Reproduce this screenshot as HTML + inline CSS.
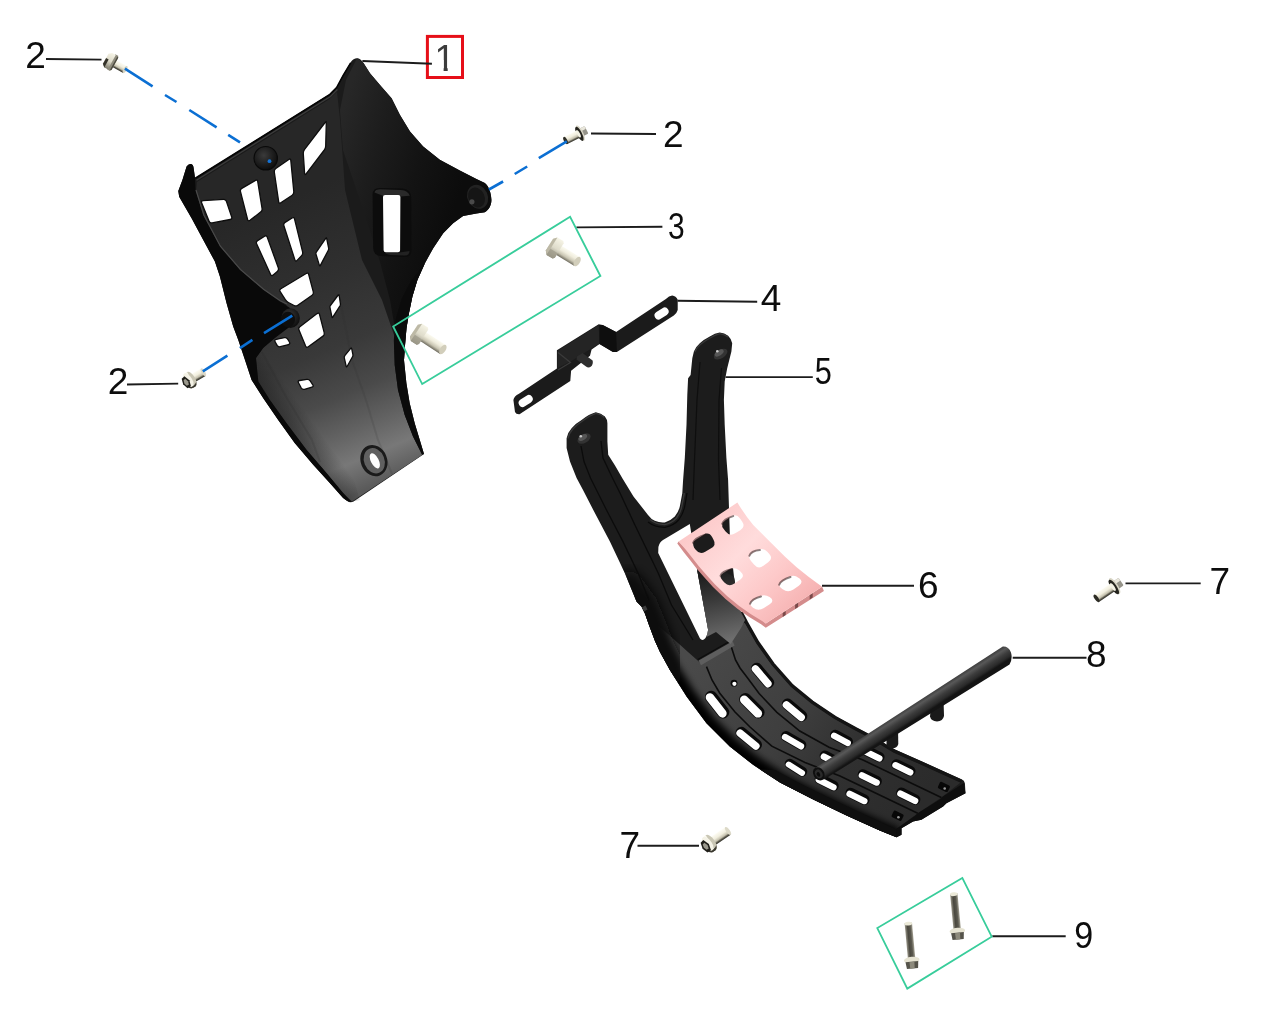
<!DOCTYPE html>
<html>
<head>
<meta charset="utf-8">
<title>Parts diagram</title>
<style>
html,body{margin:0;padding:0;background:#fff;}
body{width:1266px;height:1022px;overflow:hidden;position:relative;}
svg{position:absolute;left:0;top:0;display:block;}
.lbl{font-family:"Liberation Sans",sans-serif;font-size:37px;fill:#0d0d0d;text-anchor:middle;}
.lead{stroke:#1c1c1c;stroke-width:1.9;fill:none;}
.gbox{stroke:#38cd9b;stroke-width:1.8;fill:none;}
.dash{stroke:#1473d6;stroke-width:2.6;fill:none;stroke-linecap:butt;}
</style>
</head>
<body>
<svg width="1266" height="1022" viewBox="0 0 1266 1022">
<defs>
</defs>
<!--PARTS-->
<!--P1S-->
<g id="part1">
<defs>
<linearGradient id="p1floor" gradientUnits="userSpaceOnUse" x1="285" y1="200" x2="400" y2="475">
<stop offset="0" stop-color="#272727"/><stop offset="0.3" stop-color="#303030"/><stop offset="0.52" stop-color="#393939"/><stop offset="0.68" stop-color="#4a4a4a"/><stop offset="0.8" stop-color="#626262"/><stop offset="0.9" stop-color="#787878"/><stop offset="1" stop-color="#5a5a5a"/>
</linearGradient>
<linearGradient id="p1left" gradientUnits="userSpaceOnUse" x1="268" y1="418" x2="296" y2="398">
<stop offset="0" stop-color="#161616" stop-opacity="0.6"/><stop offset="1" stop-color="#161616" stop-opacity="0"/>
</linearGradient>
<linearGradient id="p1rsoft" gradientUnits="userSpaceOnUse" x1="340" y1="0" x2="385" y2="0">
<stop offset="0" stop-color="#1a1a1a" stop-opacity="0"/><stop offset="1" stop-color="#1a1a1a" stop-opacity="1"/>
</linearGradient>
<linearGradient id="p1wing" gradientUnits="userSpaceOnUse" x1="340" y1="120" x2="470" y2="160">
<stop offset="0" stop-color="#272727"/><stop offset="0.3" stop-color="#1d1d1d"/><stop offset="0.65" stop-color="#131313"/><stop offset="1" stop-color="#0c0c0c"/>
</linearGradient>
<radialGradient id="boss" cx="0.42" cy="0.38" r="0.7">
<stop offset="0" stop-color="#3a3a3a"/><stop offset="0.55" stop-color="#1e1e1e"/><stop offset="1" stop-color="#090909"/>
</radialGradient>
</defs>
<path fill="#1b1b1b" d="M357,58.3 C359.5,58.3 361.5,60 363.5,63 L370,73.3 L380,85 L391.6,98.3 L400,115 L410,131.5 L423.2,146.5 L439.8,159.8 L459.8,170.6 L476.4,179 L484.8,183.1 C488.5,186 491,192 491.4,199.8 C491.5,205 489,210 484.8,212.2 L476.4,213.5 L463.1,216 L453.1,223.3 L443.2,233.3 L433.2,248.2 L424.9,263.2 L417.4,279.9 L412.4,296.5 L409,313.1 L406.5,328.1 L404.9,346.4 L404,360 L406.4,383.3 L409.7,403.2 L414.7,423.2 L419.7,439.8 L424,454 L353.5,501.6 Q350,503.5 346.5,500.5 L343.1,498.1 L329.8,483.1 L313.2,464.8 L294.9,443.2 L278.2,419.9 L263.3,398.2 L251.6,379.9 L245,360 L238.3,340 L233.2,326.5 L226.6,303.2 L219.9,276.5 L214.9,261.6 L203.3,239.9 L191.6,218.3 L179.2,196.7 L178.3,191 L182.5,179.8 L186.6,166.5 Q188.5,163.5 191,164 Q193.3,164.5 193.6,168 L195,178.1 L329.7,94.1 L336.4,87.4 L343,75 L350.5,62.5 Q353.5,58.3 357,58.3 Z"/>
<path fill="url(#p1wing)" d="M357,58.3 L363.5,63 L370,73.3 L380,85 L391.6,98.3 L400,115 L410,131.5 L423.2,146.5 L439.8,159.8 L459.8,170.6 L476.4,179 L484.8,183.1 C488.5,186 491,192 491.4,199.8 C491.5,205 489,210 484.8,212.2 L476.4,213.5 L463.1,216 L453.1,223.3 L443.2,233.3 L433.2,248.2 L424.9,263.2 L417.4,279.9 L412.4,296.5 L409,313.1 L406.5,328.1 L404.9,346.4 L404,360 L396,335 L390,300 L380,262 L360,200 L343,150 L340,110 L346,80 Z"/>
<path fill="url(#p1floor)" d="M197,182 L329,99.5 L337,92 L340,120 L345,190 L362,260 L382,300 L394,335 L394.7,365 L398,390 L404.7,415 L413,436.5 L422.5,454.8 L352,501.6 L343.1,493.1 L326.5,473.1 L306.5,449.8 L286.6,423.2 L269.9,399.9 L258.3,381.6 L255.8,358.3 L263,348 L290,318 L286.5,304.8 L263.2,289.8 L239.9,269.9 L219.9,246.6 L203.3,215 L196,192 Z"/>
<path fill="url(#p1rsoft)" d="M340,120 L345,190 L362,260 L382,300 L394,335 L376,300 L352,262 L336,200 L332,150 L335,110 Z" opacity="0.0"/>
<path fill="url(#p1left)" d="M255.8,358.3 L263,348 L300,340 L330,400 L360,500 L352,501.6 L343.1,493.1 L326.5,473.1 L306.5,449.8 L286.6,423.2 L269.9,399.9 L258.3,381.6 Z"/>
<path fill="#090909" d="M195,178.1 L195.5,190 L203.3,215 L219.9,246.6 L239.9,269.9 L263.2,289.8 L279.8,301.5 L290,308 L292,325 L275,338 L263.2,348.1 L256,358 L258.3,381.6 L269.9,399.9 L286.6,423.2 L306.5,449.8 L326.5,473.1 L343.1,493.1 L351.5,502 L346.5,500.5 L343.1,498.1 L329.8,483.1 L313.2,464.8 L294.9,443.2 L278.2,419.9 L263.3,398.2 L251.6,379.9 L245,360 L238.3,340 L233.2,326.5 L226.6,303.2 L219.9,276.5 L214.9,261.6 L203.3,239.9 L191.6,218.3 L179.2,196.7 L178.3,191 L182.5,179.8 L186.6,166.5 Q188.5,163.5 191,164 Q193.3,164.5 193.6,168 Z"/>
<path fill="#0b0b0b" d="M404,360 L406.4,383.3 L409.7,403.2 L414.7,423.2 L419.7,439.8 L424,454 L422,454.8 L413,436.5 L404.7,414.9 L398,389.9 L394.7,365 L393.8,340 L396,318 L402,298 L411,281 L424.9,263.2 L417.4,279.9 L412.4,296.5 L409,313 L406.5,328.1 L404.9,346.4 Z"/>
<path fill="none" stroke="#2a2a2a" stroke-opacity="0.14" stroke-width="2" d="M340,300 L352,360 L366,400 L378,440 L392,474"/>
<path fill="none" stroke="#242424" stroke-opacity="0.14" stroke-width="2" d="M262,352 L285,395 L312,440 L320,462"/>
<path fill="none" stroke="#4a4a4a" stroke-width="1.2" d="M196,190 L203.8,215 L220.4,246.2 L240.4,269.4 L263.6,289.2 L280.2,300.8 L287,304"/>
<path fill="none" stroke="#3c3c3c" stroke-width="1.3" d="M196.5,180.3 L330.5,96.5 L337.4,89.5"/>
<path fill="none" stroke="#050505" stroke-width="1.6" d="M195.3,178.3 L329.9,94.4 L336.6,87.6 L343.2,75.3 L350.7,62.8"/>
<path d="M325.1,122.5 Q326.4,120.7 326.3,122.9 L325.7,146.0 Q325.6,148.2 324.3,150.0 L306.1,173.8 Q304.8,175.6 304.6,173.4 L303.3,153.7 Q303.1,151.5 304.4,149.7 Z" fill="#fff" stroke="#0d0d0d" stroke-width="1.3"/>
<path d="M274.3,172.0 Q274.0,169.8 275.8,168.5 L288.8,159.5 Q290.6,158.2 290.8,160.4 L293.8,191.8 Q294.0,194.0 292.2,195.2 L280.8,202.8 Q279.0,204.0 278.7,201.8 Z" fill="#fff" stroke="#0d0d0d" stroke-width="1.3"/>
<path d="M240.5,191.6 Q239.9,189.5 241.8,188.4 L255.5,180.4 Q257.4,179.3 257.7,181.5 L262.1,208.6 Q262.4,210.8 260.6,212.1 L250.0,220.3 Q248.2,221.6 247.6,219.5 Z" fill="#fff" stroke="#0d0d0d" stroke-width="1.3"/>
<path d="M201.6,202.8 Q200.8,200.8 203.0,200.7 L223.5,199.3 Q225.7,199.2 226.4,201.3 L231.7,217.0 Q232.4,219.1 230.2,219.5 L212.1,222.9 Q209.9,223.3 209.1,221.3 Z" fill="#fff" stroke="#0d0d0d" stroke-width="1.3"/>
<path d="M283.9,225.7 Q283.2,223.6 285.1,222.4 L292.1,218.0 Q294.0,216.8 294.5,218.9 L302.6,251.9 Q303.1,254.0 301.6,255.6 L297.1,260.4 Q295.6,262.0 294.9,259.9 Z" fill="#fff" stroke="#0d0d0d" stroke-width="1.3"/>
<path d="M256.6,243.8 Q255.7,241.8 257.6,240.6 L264.6,236.2 Q266.5,235.0 267.2,237.1 L278.3,267.8 Q279.0,269.9 277.3,271.4 L273.2,275.0 Q271.5,276.5 270.6,274.5 Z" fill="#fff" stroke="#0d0d0d" stroke-width="1.3"/>
<path d="M316.0,254.3 Q315.6,253.2 316.3,252.2 L325.7,238.4 Q326.4,237.4 326.7,238.6 L328.6,247.9 Q328.9,249.1 328.3,250.2 L320.4,265.4 Q319.8,266.5 319.4,265.4 Z" fill="#fff" stroke="#0d0d0d" stroke-width="1.3"/>
<path d="M280.2,291.7 Q279.0,289.8 280.9,288.7 L306.2,273.5 Q308.1,272.4 308.7,274.5 L313.3,291.9 Q313.9,294.0 312.1,295.3 L297.8,305.2 Q296.0,306.5 294.1,305.5 L288.4,302.5 Q286.5,301.5 285.3,299.6 Z" fill="#fff" stroke="#0d0d0d" stroke-width="1.3"/>
<path d="M299.0,330.1 Q298.1,328.1 299.9,326.8 L317.1,313.6 Q318.9,312.3 319.5,314.4 L324.2,332.7 Q324.8,334.8 323.0,336.1 L308.3,346.8 Q306.5,348.1 305.6,346.1 Z" fill="#fff" stroke="#0d0d0d" stroke-width="1.3"/>
<path d="M330.0,307.7 Q329.7,306.5 330.4,305.5 L338.2,295.0 Q338.9,294.0 339.1,295.2 L340.4,303.6 Q340.6,304.8 340.0,305.8 L332.8,317.1 Q332.2,318.1 331.9,316.9 Z" fill="#fff" stroke="#0d0d0d" stroke-width="1.3"/>
<path d="M344.3,357.8 Q344.0,356.6 344.8,355.7 L350.7,348.4 Q351.5,347.5 351.7,348.7 L352.9,354.6 Q353.1,355.8 352.5,356.8 L347.1,366.5 Q346.5,367.5 346.2,366.3 Z" fill="#fff" stroke="#0d0d0d" stroke-width="1.3"/>
<path d="M298.5,382.7 Q297.4,380.8 299.6,380.5 L306.8,379.4 Q309.0,379.1 310.2,380.9 L312.8,384.8 Q314.0,386.6 311.9,387.2 L304.5,389.3 Q302.4,389.9 301.3,388.0 Z" fill="#fff" stroke="#0d0d0d" stroke-width="1.3"/>
<path d="M275.1,341.7 Q274.0,339.8 276.2,339.4 L284.3,337.7 Q286.5,337.3 287.7,339.2 L289.4,342.0 Q290.6,343.9 288.5,344.5 L280.3,346.7 Q278.2,347.3 277.1,345.4 Z" fill="#fff" stroke="#0d0d0d" stroke-width="1.3"/>
<path fill="#0c0c0c" d="M372.6,195 Q372.4,188 379.5,188 L402,188.6 Q411.2,189 411.2,198 L411.4,250 Q411.4,257.2 404.5,257 L381,256 Q373.4,255.6 373.2,248 Z"/>
<path fill="#2a2a2a" d="M374.5,192.5 Q375,189.3 380.5,189.3 L401,190 Q408,190.4 409.8,195.8 L400.3,196.5 L383.5,196 Z"/>
<path fill="#222" d="M385,252.6 L399.5,252.4 L409.5,251 Q409.5,255.6 404.5,255.6 L390,255 Q386,254.6 385,252.6 Z"/>
<path fill="#fff" d="M383,197 Q383,195 385.2,195 L398.3,195 Q400.4,195 400.4,197 L400.1,250.3 Q400.1,252.3 398,252.3 L385.8,252.3 Q383.7,252.3 383.6,250.3 Z"/>
<circle cx="265.7" cy="158.2" r="11.7" fill="url(#boss)"/>
<circle cx="265.7" cy="158.2" r="11.7" fill="none" stroke="#0a0a0a" stroke-width="1.2"/>
<circle cx="269.5" cy="161.2" r="1.9" fill="#1473d6"/>
<ellipse cx="290.6" cy="318.1" rx="9.3" ry="9.8" fill="url(#boss)"/>
<ellipse cx="288" cy="319.5" rx="7" ry="7.8" fill="#0e0e0e"/>
<ellipse cx="477.6" cy="196.8" rx="10.2" ry="12.3" fill="#222" transform="rotate(-25 477.6 196.8)"/>
<ellipse cx="476.5" cy="197.5" rx="8" ry="10.3" fill="#151515" transform="rotate(-25 476.5 197.5)"/>
<circle cx="471.9" cy="201.8" r="2.6" fill="#4a4a4a"/>
<ellipse cx="373.9" cy="460.6" rx="13.2" ry="16" fill="#1a1a1a" transform="rotate(-22 373.9 460.6)"/>
<ellipse cx="374.3" cy="460.8" rx="10.2" ry="13" fill="#606060" transform="rotate(-22 374.3 460.8)"/>
<ellipse cx="374.8" cy="460.8" rx="3.9" ry="8.3" fill="#fff" transform="rotate(-27 374.8 460.8)"/>
</g>
<!--P1E-->
<!--PRS-->
<g id="part4">
<path fill="#1b1b1b" d="M672.2,295.6 Q676,296 677.7,299.7 L677.7,310 Q676.5,314 673.8,315.5 L616.9,351.9 L613,351.9 L599.5,344 L591.6,349.5 L590,355.8 L571.1,370.8 L570.3,381.1 L519.5,414.3 Q516,414.5 515,411.9 L513.4,400 Q514,396 519,393.7 L556.9,368.5 L556.9,350.3 L598.7,324.2 L602.7,325 L616.1,332.1 L665.9,299 Q669,295.8 672.2,295.6 Z"/>
<path fill="#242424" d="M557.5,351 L598.7,325 L599.5,343.5 L571.5,361 L557.5,368 Z"/>
<path fill="#0e0e0e" d="M599.5,325 L602.7,325 L616.1,332.1 L616.9,351.9 L613,351.9 L599.5,344 Z"/>
<path fill="#101010" d="M556.9,350.3 L558.5,351.3 L570.5,361 L557,368.5 Z" opacity="0.0"/>
<path fill="none" stroke="#3a3a3a" stroke-width="1.2" d="M558,352.5 L570.5,362.5 L558,370"/>
<path fill="#2e2e2e" d="M577,356.5 L582.5,353 L592.6,360.5 Q593.5,364 591,366.5 Q588.5,368.3 586,366.5 L576.5,359.5 Z"/>
<rect x="-7.6" y="-4" width="15.2" height="8" rx="4" fill="#fff" transform="translate(661.6,313.5) rotate(-33)"/>
<rect x="-7.6" y="-4" width="15.2" height="8" rx="4" fill="#fff" transform="translate(525.7,401) rotate(-33)"/>
</g>
<g id="part5">
<defs>
<linearGradient id="railg" gradientUnits="userSpaceOnUse" x1="700" y1="640" x2="920" y2="800">
<stop offset="0" stop-color="#4a4a4a"/><stop offset="0.45" stop-color="#3e3e3e"/><stop offset="0.7" stop-color="#303030"/><stop offset="1" stop-color="#2b2b2b"/>
</linearGradient>
<linearGradient id="armg" gradientUnits="userSpaceOnUse" x1="690" y1="560" x2="720" y2="640">
<stop offset="0" stop-color="#1e1e1e"/><stop offset="1" stop-color="#6a6a6a"/>
</linearGradient>
<linearGradient id="armg2" gradientUnits="userSpaceOnUse" x1="712" y1="572" x2="728" y2="640">
<stop offset="0" stop-color="#1c1c1c"/><stop offset="0.4" stop-color="#3a3a3a"/><stop offset="1" stop-color="#6e6e6e"/>
</linearGradient>
</defs>
<path fill="#1c1c1c" d="M595.8,412.2 Q601,413 604.9,416.5 Q607.4,419.5 607.4,423.2 L607.4,441.5 L608.2,454.8 L615,465.5 L622.5,478.5 L633.5,496.5 L648,514.9 Q651,519 654.8,520.8 Q660,523 664.8,522.4 Q670.5,521 674.8,516.6 Q678.5,512 679.8,506.6 L682.3,493.3 L683.1,480 L684.8,458.1 L686.5,424.8 L687.3,394.9 L688.1,378.2 L690.6,374.9 L692.3,358.3 L693.9,351.6 Q696,346.5 699.8,343.3 Q704,339.5 709.8,336.6 Q715,333.2 719.7,332.5 Q724.5,333 728.1,335.8 Q731.5,339 732.2,343.3 L731.4,351.6 L727.2,368.3 L724.7,381.6 L723.9,399.9 L724.7,424.8 L726.4,458.1 L728.1,480 L728.9,505 L730,540 L734,577 L739.9,610 L745.1,620 L756.5,640.3 L771.8,662 L790.9,683.6 L811.2,700.1 L834.1,715.4 L854.5,726.8 L865.9,732.6 L894,749.1 L919.8,760.5 L944.7,771.8 L961.4,779.3 Q964.5,780.5 964.9,783.2 L965.5,793.2 L946.4,803.2 L943.1,806.5 L921.4,819.8 L913.1,821.5 L901.5,828.2 L901.5,834.8 L896.5,837.3 L879.8,830.5 L846.6,815.6 L813.3,799.5 L780,782.5 L753.1,764.8 L729.8,746.5 L706.5,723.2 L686.6,696.5 L669.9,669.9 L660,652 L655,641 L649,625 L644.9,613.5 L641.5,606.5 L636.5,601.5 L624.9,573.2 L609.9,541.6 L593.3,510 L582.5,489 L576.6,478.1 L570,461.5 L566.6,448.1 L566.6,438.2 Q568,432 571.6,428.2 Q576,423 581.6,419.9 Q589,414 595.8,412.2 Z"/>
<clipPath id="p5clip"><path d="M595.8,412.2 Q601,413 604.9,416.5 Q607.4,419.5 607.4,423.2 L607.4,441.5 L608.2,454.8 L615,465.5 L622.5,478.5 L633.5,496.5 L648,514.9 Q651,519 654.8,520.8 Q660,523 664.8,522.4 Q670.5,521 674.8,516.6 Q678.5,512 679.8,506.6 L682.3,493.3 L683.1,480 L684.8,458.1 L686.5,424.8 L687.3,394.9 L688.1,378.2 L690.6,374.9 L692.3,358.3 L693.9,351.6 Q696,346.5 699.8,343.3 Q704,339.5 709.8,336.6 Q715,333.2 719.7,332.5 Q724.5,333 728.1,335.8 Q731.5,339 732.2,343.3 L731.4,351.6 L727.2,368.3 L724.7,381.6 L723.9,399.9 L724.7,424.8 L726.4,458.1 L728.1,480 L728.9,505 L730,540 L734,577 L739.9,610 L745.1,620 L756.5,640.3 L771.8,662 L790.9,683.6 L811.2,700.1 L834.1,715.4 L854.5,726.8 L865.9,732.6 L894,749.1 L919.8,760.5 L944.7,771.8 L961.4,779.3 Q964.5,780.5 964.9,783.2 L965.5,793.2 L946.4,803.2 L943.1,806.5 L921.4,819.8 L913.1,821.5 L901.5,828.2 L901.5,834.8 L896.5,837.3 L879.8,830.5 L846.6,815.6 L813.3,799.5 L780,782.5 L753.1,764.8 L729.8,746.5 L706.5,723.2 L686.6,696.5 L669.9,669.9 L660,652 L655,641 L649,625 L644.9,613.5 L641.5,606.5 L636.5,601.5 L624.9,573.2 L609.9,541.6 L593.3,510 L582.5,489 L576.6,478.1 L570,461.5 L566.6,448.1 L566.6,438.2 Q568,432 571.6,428.2 Q576,423 581.6,419.9 Q589,414 595.8,412.2 Z"/></clipPath>
<filter id="blur3" x="-20%" y="-20%" width="140%" height="140%"><feGaussianBlur stdDeviation="3.8"/></filter>
<path fill="url(#railg)" d="M699.9,662.4 L730.7,644.1 L739,624 L745.1,623 L756.5,643.3 L771.8,665 L790.9,686.6 L811.2,703.1 L834.1,718.4 L854.5,729.8 L865.9,735.6 L894,752.6 L919.8,764 L944.7,775.3 L960.5,782.5 L941.3,797.5 L917.7,813.3 L896.3,829 L896.5,837.3 L879.8,830.5 L846.6,815.6 L813.3,799.5 L780,782.5 L753.1,764.8 L729.8,746.5 L706.5,723.2 L686.6,696.5 L669.9,669.9 L660,652 L655,641 L649,625 L646,616 L668,634 L688,652 Z"/>
<g clip-path="url(#p5clip)"><path filter="url(#blur3)" fill="none" stroke="#050505" stroke-width="19" stroke-linejoin="round" d="M636,598 L641.5,606.5 L644.9,613.5 L649,625 L655,641 L660,652 L669.9,669.9 L686.6,696.5 L706.5,723.2 L729.8,746.5 L753.1,764.8 L780,782.5 L813.3,799.5 L846.6,815.6 L879.8,830.5 L896.5,837.3"/></g>
<filter id="blur6" x="-30%" y="-30%" width="160%" height="160%"><feGaussianBlur stdDeviation="6"/></filter>
<g clip-path="url(#p5clip)"><path filter="url(#blur6)" fill="none" stroke="#080808" stroke-width="34" stroke-linecap="round" d="M628,588 L641.5,606.5 L649,625 L658,648 L668,668"/></g>
<path fill="#0f0f0f" d="M896.5,837.3 L879.8,830.5 L846.6,815.6 L813.3,799.5 L780,782.5 L760,769.5 L775,770 L805,786 L840,803 L896.3,829.5 Z"/>
<path fill="none" stroke="#0c0c0c" stroke-width="1.6" d="M730.7,645 L735.5,660 L740,668 L747.6,678 L759.1,693.5 L776.9,712.4 L799.8,731 L829,747.2 L862.5,759.8 L941.3,797.5"/>
<path fill="none" stroke="#0c0c0c" stroke-width="1.6" d="M706.5,666.6 L712,680 L719.8,693.2 L735,712 L750,727 L771.8,746.2 L805,762.5 L840,776.1 L917.7,813.3"/>
<path fill="none" stroke="#141414" stroke-width="3.4" d="M741,612 L746.5,622.5 L757.8,642.5 L773,664 L792,685.6 L812.2,702.1 L835,717.4 L855.2,728.6 L866.5,734.4 L894.5,751.2 L920.2,762.5 L945,773.8 L961.5,781.3"/>
<path fill="#5e5e5e" d="M698.6,660.4 L732.6,641.2 L734.6,645.4 L701,665.2 Z"/>
<path fill="none" stroke="#0c0c0c" stroke-width="1.2" d="M697.8,659.4 L732,640"/>
<path fill="#0e0e0e" d="M896.3,829 L915.4,815.5 L917.7,813.3 L941.3,798.6 L941.3,797.5 L963.8,782.9 L965.5,793.2 L946.4,803.2 L943.1,806.5 L921.4,819.8 L913.1,821.5 L901.5,828.2 L901.5,834.8 L896.5,837.3 Z"/>
<path fill="#fff" d="M658.2,553 L658.4,547 Q659.5,542 663,540 L689.8,524.1 L697.3,570.7 L708.1,629.8 Q708,635 705.5,638 Q702.5,641.5 700,638.5 Z"/>
<path fill="url(#armg)" d="M697.3,570.7 L708.1,629.8 L706.5,637 L716,632 L705,572 Z"/>
<path fill="url(#armg2)" d="M697.3,570.7 L705,560 L734,577 L739.9,610 L745.1,620 L741,628 L730.7,644.1 L716,632 L708.1,629.8 Z"/>
<path fill="none" stroke="#0b0b0b" stroke-width="1.3" d="M581,446 L584,461.5 L590.5,478 L606.5,510 L623,541.6 L638,573 L649,600"/>
<path fill="none" stroke="#0b0b0b" stroke-width="1.3" d="M601,441 L603,458 L612,477 L620,493 L634.9,525 L658.2,573 L671.5,605 L693,640"/>
<path fill="none" stroke="#0e0e0e" stroke-width="1.2" d="M700,362 L697,400 L694.5,460 L693,500"/>
<path fill="none" stroke="#0e0e0e" stroke-width="1.2" d="M721.5,368 L719,400 L718.5,460 L720,500"/>
<path fill="none" stroke="#383838" stroke-width="1.3" d="M694.8,352 Q697,346.8 700.6,344.2 Q705,340.6 710.5,337.7 Q715.5,334.5 720,333.6 Q725,334.3 728,337"/>
<path fill="none" stroke="#383838" stroke-width="1.3" d="M567.8,438.5 Q569.2,433 572.6,429.2 Q577,424.2 582.5,421 Q590,415.2 596,413.4 Q601,414.3 604.3,417.3"/>
<path fill="none" stroke="#3a3a3a" stroke-width="1.4" d="M650,519.5 Q655,524 664.8,524.6 Q672,523 676.5,518 Q681,512 682,505 L684.3,493"/>
<path fill="none" stroke="#0a0a0a" stroke-width="1.2" d="M648,522 Q655,527.5 665,527.3 Q674,525.5 679,519.5 Q684,512 685,505 L687,493"/>
<ellipse cx="720.6" cy="354.1" rx="7.6" ry="4.3" fill="#333" transform="rotate(-32 720.6 354.1)"/>
<ellipse cx="719.2" cy="353" rx="5" ry="2.6" fill="#565656" transform="rotate(-32 719.2 353)"/>
<circle cx="717.3" cy="351.2" r="1.3" fill="#c8c8c8"/>
<ellipse cx="584.1" cy="438.5" rx="7.2" ry="4.4" fill="#333" transform="rotate(-32 584.1 438.5)"/>
<ellipse cx="582.8" cy="437.5" rx="4.8" ry="2.6" fill="#565656" transform="rotate(-32 582.8 437.5)"/>
<circle cx="580.8" cy="436.2" r="1.3" fill="#c8c8c8"/>
<path fill="#3a3a3a" d="M641.8,607.5 L645.5,605.5 L647.5,609.5 L644,611.5 Z"/>
<rect x="-14.8" y="-6.1" width="29.6" height="11.4" rx="5.5" fill="#0a0a0a" transform="translate(762.3,675.8) rotate(50)"/>
<rect x="-13.4" y="-2.9" width="26.8" height="7.4" rx="3.7" fill="#fff" transform="translate(762.3,675.8) rotate(50)"/>
<rect x="-15.8" y="-6.6" width="31.6" height="12.4" rx="6.0" fill="#0a0a0a" transform="translate(716.8,704.9) rotate(52)"/>
<rect x="-14.4" y="-3.4" width="28.8" height="8.4" rx="4.2" fill="#fff" transform="translate(716.8,704.9) rotate(52)"/>
<rect x="-15.3" y="-6.6" width="30.6" height="12.4" rx="6.0" fill="#0a0a0a" transform="translate(751.6,706.0) rotate(45)"/>
<rect x="-13.9" y="-3.4" width="27.8" height="8.4" rx="4.2" fill="#fff" transform="translate(751.6,706.0) rotate(45)"/>
<rect x="-14.8" y="-6.1" width="29.6" height="11.4" rx="5.5" fill="#0a0a0a" transform="translate(794.3,710.5) rotate(40)"/>
<rect x="-13.4" y="-2.9" width="26.8" height="7.4" rx="3.7" fill="#fff" transform="translate(794.3,710.5) rotate(40)"/>
<rect x="-15.3" y="-6.1" width="30.6" height="11.4" rx="5.5" fill="#0a0a0a" transform="translate(748.5,739.0) rotate(39)"/>
<rect x="-13.9" y="-2.9" width="27.8" height="7.4" rx="3.7" fill="#fff" transform="translate(748.5,739.0) rotate(39)"/>
<rect x="-13.8" y="-5.6" width="27.6" height="10.4" rx="5.0" fill="#0a0a0a" transform="translate(793.4,741.0) rotate(30)"/>
<rect x="-12.4" y="-2.4" width="24.8" height="6.4" rx="3.2" fill="#fff" transform="translate(793.4,741.0) rotate(30)"/>
<rect x="-12.3" y="-5.3" width="24.6" height="9.9" rx="4.8" fill="#0a0a0a" transform="translate(795.8,768.0) rotate(32)"/>
<rect x="-10.9" y="-2.1" width="21.8" height="5.9" rx="3.0" fill="#fff" transform="translate(795.8,768.0) rotate(32)"/>
<rect x="-12.3" y="-5.6" width="24.6" height="10.4" rx="5.0" fill="#0a0a0a" transform="translate(841.3,738.7) rotate(28)"/>
<rect x="-10.9" y="-2.4" width="21.8" height="6.4" rx="3.2" fill="#fff" transform="translate(841.3,738.7) rotate(28)"/>
<rect x="-12.8" y="-5.6" width="25.6" height="10.4" rx="5.0" fill="#0a0a0a" transform="translate(831.5,759.6) rotate(27)"/>
<rect x="-11.4" y="-2.4" width="22.8" height="6.4" rx="3.2" fill="#fff" transform="translate(831.5,759.6) rotate(27)"/>
<rect x="-12.8" y="-5.6" width="25.6" height="10.4" rx="5.0" fill="#0a0a0a" transform="translate(872.3,754.0) rotate(26)"/>
<rect x="-11.4" y="-2.4" width="22.8" height="6.4" rx="3.2" fill="#fff" transform="translate(872.3,754.0) rotate(26)"/>
<rect x="-12.8" y="-5.6" width="25.6" height="10.4" rx="5.0" fill="#0a0a0a" transform="translate(903.2,768.1) rotate(26)"/>
<rect x="-11.4" y="-2.4" width="22.8" height="6.4" rx="3.2" fill="#fff" transform="translate(903.2,768.1) rotate(26)"/>
<rect x="-12.8" y="-5.6" width="25.6" height="10.4" rx="5.0" fill="#0a0a0a" transform="translate(869.6,778.2) rotate(26)"/>
<rect x="-11.4" y="-2.4" width="22.8" height="6.4" rx="3.2" fill="#fff" transform="translate(869.6,778.2) rotate(26)"/>
<rect x="-12.8" y="-5.6" width="25.6" height="10.4" rx="5.0" fill="#0a0a0a" transform="translate(826.5,782.8) rotate(27)"/>
<rect x="-11.4" y="-2.4" width="22.8" height="6.4" rx="3.2" fill="#fff" transform="translate(826.5,782.8) rotate(27)"/>
<rect x="-12.8" y="-5.6" width="25.6" height="10.4" rx="5.0" fill="#0a0a0a" transform="translate(857.3,796.7) rotate(26)"/>
<rect x="-11.4" y="-2.4" width="22.8" height="6.4" rx="3.2" fill="#fff" transform="translate(857.3,796.7) rotate(26)"/>
<rect x="-12.8" y="-5.6" width="25.6" height="10.4" rx="5.0" fill="#0a0a0a" transform="translate(908.1,796.5) rotate(26)"/>
<rect x="-11.4" y="-2.4" width="22.8" height="6.4" rx="3.2" fill="#fff" transform="translate(908.1,796.5) rotate(26)"/>
<circle cx="734" cy="683.2" r="3.4" fill="#0a0a0a"/><circle cx="734.4" cy="683.8" r="2.1" fill="#fff"/>
<rect x="-5.5" y="-3.6" width="11" height="7.2" rx="1.5" fill="#070707" transform="translate(943.9,786.9) rotate(26)"/>
<circle cx="944.7" cy="788.5" r="1.3" fill="#999"/>
<rect x="-5.5" y="-3.6" width="11" height="7.2" rx="1.5" fill="#070707" transform="translate(897.6,815.7) rotate(26)"/>
<circle cx="898.4" cy="817.3" r="1.3" fill="#999"/>
</g>
<g id="part6">
<defs><linearGradient id="pinkg" gradientUnits="userSpaceOnUse" x1="700" y1="515" x2="800" y2="610"><stop offset="0" stop-color="#fcc8c8"/><stop offset="0.4" stop-color="#ffdcdc"/><stop offset="0.7" stop-color="#fdc9c9"/><stop offset="1" stop-color="#f6b2b2"/></linearGradient>
<mask id="pinkmask" maskUnits="userSpaceOnUse" x="660" y="490" width="180" height="150"><rect x="660" y="490" width="180" height="150" fill="#fff"/>
<path d="M694.5,548.2 Q690.6,543.0 696.1,539.5 L703.3,534.9 Q708.8,531.4 712.1,537.0 L713.4,539.4 Q716.7,545.0 711.1,548.3 L705.2,551.7 Q699.6,555.0 695.7,549.8 Z" fill="#000"/>
<path d="M723.7,529.1 Q719.7,524.0 725.1,520.4 L730.8,516.7 Q736.2,513.1 740.0,518.4 L742.1,521.5 Q745.9,526.8 740.3,530.2 L735.2,533.3 Q729.6,536.7 725.6,531.6 Z" fill="#000"/>
<path d="M751.0,561.0 Q746.9,556.0 752.6,552.8 L757.2,550.3 Q762.9,547.1 767.3,551.8 L769.1,553.7 Q773.5,558.4 768.2,562.2 L763.4,565.8 Q758.1,569.6 754.0,564.6 Z" fill="#000"/>
<path d="M722.6,580.6 Q718.0,576.0 723.6,572.7 L728.9,569.6 Q734.5,566.3 739.4,570.6 L740.6,571.7 Q745.5,576.0 740.1,579.7 L734.4,583.5 Q729.0,587.2 724.4,582.6 Z" fill="#000"/>
<path d="M782.0,588.8 Q776.7,585.0 782.1,581.4 L788.1,577.6 Q793.5,574.0 798.7,577.9 L799.0,578.1 Q804.2,582.0 798.8,585.7 L793.4,589.4 Q788.0,593.1 782.7,589.3 Z" fill="#000"/>
<path d="M753.0,607.7 Q747.6,604.0 753.1,600.5 L758.5,597.0 Q764.0,593.5 769.5,597.0 L769.6,597.1 Q775.1,600.6 769.7,604.2 L763.9,607.9 Q758.5,611.5 753.1,607.8 Z" fill="#000"/>
</mask></defs>
<g mask="url(#pinkmask)">
<path fill="#d48c8c" d="M677.3,543.6 L684,552.5 L690,560 L697,569 L704,577 L713,587 L725.5,599 L737.4,608.7 L749.2,617 L761.1,624.3 L765.8,627.7 L823.9,591 L822.1,586.8 L765.8,623.5 L678.6,541.6 Z"/>
<path fill="url(#pinkg)" d="M678.6,541.6 L737.4,502.5 Q744.5,514.5 753.2,524.9 L768.2,540 L784.8,556.6 L796.6,567.3 L808.5,576.7 L822.1,586.8 L765.8,623.5 L762.9,621.5 L751,614.2 L739.2,605.9 L727.3,596.2 L714.8,584.2 L705.8,574.2 L698.8,566.2 L691.8,557.2 L685.8,549.7 Z"/>
</g>
<path d="M693.1,542.8 Q694.6,538.0 705.8,534.4" fill="none" stroke="#2a1a1a" stroke-opacity="0.55" stroke-width="2" stroke-linecap="round"/>
<path d="M722.2,523.8 Q723.7,519.0 733.2,516.1" fill="none" stroke="#2a1a1a" stroke-opacity="0.55" stroke-width="2" stroke-linecap="round"/>
<path d="M749.4,555.8 Q750.9,551.0 759.9,550.1" fill="none" stroke="#2a1a1a" stroke-opacity="0.55" stroke-width="2" stroke-linecap="round"/>
<path d="M720.5,575.8 Q722.0,571.0 731.5,569.3" fill="none" stroke="#2a1a1a" stroke-opacity="0.55" stroke-width="2" stroke-linecap="round"/>
<path d="M779.2,584.8 Q780.7,580.0 790.5,577.0" fill="none" stroke="#2a1a1a" stroke-opacity="0.55" stroke-width="2" stroke-linecap="round"/>
<path d="M750.1,603.8 Q751.6,599.0 761.0,596.5" fill="none" stroke="#2a1a1a" stroke-opacity="0.55" stroke-width="2" stroke-linecap="round"/>
<path d="M782.7,612.9 l3,-2 l0,4.2 l-3,2 Z" fill="#7a4a4a"/>
<path d="M795.1,604.8 l3,-2 l0,4.2 l-3,2 Z" fill="#7a4a4a"/>
<path d="M809.7,595.3 l3,-2 l0,4.2 l-3,2 Z" fill="#7a4a4a"/>
</g>
<g id="part8">
<defs><linearGradient id="rodg" gradientUnits="userSpaceOnUse" x1="905" y1="706.5" x2="914" y2="720.5">
<stop offset="0" stop-color="#242424"/><stop offset="0.12" stop-color="#3a3a3a"/><stop offset="0.35" stop-color="#585858"/><stop offset="0.6" stop-color="#3c3c3c"/><stop offset="0.85" stop-color="#2a2a2a"/><stop offset="1" stop-color="#141414"/></linearGradient></defs>
<path fill="#1a1a1a" d="M931,706 L943.5,700 L944,716 Q943,721 937,721.5 Q931,721 930,716.5 Z"/>
<path fill="#1a1a1a" d="M886.5,736 L898,729 L898.3,744 Q897,748.5 892,748.3 Q887,748 886.5,744 Z"/>
<path fill="url(#rodg)" d="M818.5,765.8 L1002.8,646.6 Q1008.5,646.2 1011,652.5 Q1012.8,659 1009.5,664.5 L824.5,779.3 Q815.5,780.5 813.2,774 Q813,768.5 818.5,765.8 Z"/>
<ellipse cx="818.8" cy="773.8" rx="5.4" ry="7" fill="#0f0f0f" transform="rotate(-33 818.8 773.8)"/>
<ellipse cx="818.8" cy="773.8" rx="3.4" ry="4.6" fill="#2a2a2a" transform="rotate(-33 818.8 773.8)"/>
<ellipse cx="818.4" cy="774.4" rx="1.6" ry="2.4" fill="#0a0a0a" transform="rotate(-33 818.4 774.4)"/>
</g>
<!--PRE-->
<!--SMS-->
<g id="small">
<defs>
<linearGradient id="shaftg" x1="0" y1="0" x2="0" y2="1">
<stop offset="0" stop-color="#fbfaf0"/><stop offset="0.35" stop-color="#efecdc"/><stop offset="0.7" stop-color="#c9c5b2"/><stop offset="1" stop-color="#6e6b5e"/>
</linearGradient>
<linearGradient id="headg" x1="0" y1="0" x2="0" y2="1">
<stop offset="0" stop-color="#f6f4e6"/><stop offset="0.5" stop-color="#dedbca"/><stop offset="1" stop-color="#7d7a6c"/>
</linearGradient>
<linearGradient id="shaftg2" x1="0" y1="0" x2="0" y2="1">
<stop offset="0" stop-color="#fdfcf4"/><stop offset="0.4" stop-color="#f1eede"/><stop offset="0.7" stop-color="#c4c0ad"/><stop offset="0.86" stop-color="#5a584c"/><stop offset="1" stop-color="#2e2d26"/>
</linearGradient>
<linearGradient id="boltg" x1="0" y1="0" x2="1" y2="0">
<stop offset="0" stop-color="#9a978a"/><stop offset="0.35" stop-color="#4a483f"/><stop offset="0.7" stop-color="#5a584e"/><stop offset="1" stop-color="#a5a294"/>
</linearGradient>
</defs>
<g transform="translate(555.0,248.0) rotate(31.5) scale(1.000)"><rect x="3" y="-5.3" width="23.0" height="10.6" fill="url(#shaftg)"/><ellipse cx="26.0" cy="0" rx="2.8" ry="5.3" fill="#d2cebb"/><path d="M-6.5,-7 L-3.5,-10.3 L3.5,-10.3 L5,-8.5 L5,8.5 L3.5,10.3 L-3.5,10.3 L-6.5,7 Z" fill="url(#headg)"/><path d="M-6.5,-7 L-3.5,-10.3 L-3.5,10.3 L-6.5,7 Z" fill="#bdb9a6"/><path d="M-3.5,3 L5,3 L5,8.5 L3.5,10.3 L-3.5,10.3 Z" fill="#a19e8d" opacity="0.8"/></g>
<g transform="translate(419.4,334.2) rotate(33.0) scale(1.000)"><rect x="3" y="-5.3" width="25.0" height="10.6" fill="url(#shaftg)"/><ellipse cx="28.0" cy="0" rx="2.8" ry="5.3" fill="#d2cebb"/><path d="M-6.5,-7 L-3.5,-10.3 L3.5,-10.3 L5,-8.5 L5,8.5 L3.5,10.3 L-3.5,10.3 L-6.5,7 Z" fill="url(#headg)"/><path d="M-6.5,-7 L-3.5,-10.3 L-3.5,10.3 L-6.5,7 Z" fill="#bdb9a6"/><path d="M-3.5,3 L5,3 L5,8.5 L3.5,10.3 L-3.5,10.3 Z" fill="#a19e8d" opacity="0.8"/></g>
<g transform="translate(110.4,61.4) rotate(29.0) scale(0.820)"><rect x="3" y="-4.8" width="17.5" height="9.6" fill="url(#shaftg2)"/><ellipse cx="20.5" cy="0" rx="2" ry="4.8" fill="#d6d3c0"/><path d="M1,-10.5 L5,-10.5 L6.2,-8.5 L6.2,8.5 L5,10.5 L1,10.5 Z" fill="#8f8c7d"/><path d="M4.6,-9.5 L6.2,-8.5 L6.2,8.5 L4.6,9.5 Z" fill="#4a483e"/><path d="M-6.5,-7 L-3,-10 L2,-10 L2,10 L-3,10 L-6.5,7 Z" fill="url(#headg)"/><path d="M-6.5,-1 L-3,-1 L-3,10 L-6.5,7 Z" fill="#34322a"/></g>
<g transform="translate(579.4,133.5) rotate(153.0) scale(1.000,-1.000)"><rect x="-8" y="-4.2" width="7" height="8.4" rx="1" fill="#96948a"/><rect x="-8" y="-4.2" width="7" height="3" rx="1" fill="#e9e7dc"/><ellipse cx="-1" cy="0" rx="2.8" ry="8.4" fill="#d9d6c6"/><ellipse cx="0.2" cy="0.3" rx="2.6" ry="7.8" fill="#25241e"/><rect x="0.5" y="-4" width="15.0" height="8" fill="url(#shaftg2)"/><ellipse cx="0.9" cy="0" rx="1.4" ry="4" fill="#f3f1e4"/><ellipse cx="15.5" cy="0" rx="1.7" ry="4" fill="#2e2d26"/></g>
<g transform="translate(188.8,380.6) rotate(-30.0) scale(0.800)"><rect x="3" y="-5.5" width="18.0" height="11" fill="url(#shaftg2)"/><ellipse cx="21.0" cy="0" rx="2.2" ry="5.5" fill="#dcd9c8"/><ellipse cx="3.5" cy="0" rx="5" ry="10.5" fill="#c9c6b4"/><rect x="-0.5" y="-10.5" width="4" height="21" fill="url(#shaftg2)"/><ellipse cx="-0.5" cy="0" rx="5" ry="10.5" fill="#f4f2e6"/><path d="M-5.8,4 Q-4,10.5 -0.5,10.5 L3.5,10.5 Q6,10 7.5,6 Q4,9 -0.5,8.5 Q-3.5,8 -5.8,4 Z" fill="#3a382f"/><path d="M-8.5,0.5 L-6.5,-6.5 L-2,-7.5 L0.8,0 L-1.2,7.5 L-6.2,7.5 Z" fill="#1f1e19"/><path d="M-6.6,0.6 L-5.5,-3.6 L-2.8,-4.2 L-1.2,0.2 L-2.3,4.3 L-5.3,4.3 Z" fill="#9a988c"/></g>
<g transform="translate(1113.8,586.6) rotate(146.0) scale(1.100,-1.100)"><rect x="-8" y="-4.2" width="7" height="8.4" rx="1" fill="#96948a"/><rect x="-8" y="-4.2" width="7" height="3" rx="1" fill="#e9e7dc"/><ellipse cx="-1" cy="0" rx="2.8" ry="8.4" fill="#d9d6c6"/><ellipse cx="0.2" cy="0.3" rx="2.6" ry="7.8" fill="#25241e"/><rect x="0.5" y="-4" width="18.5" height="8" fill="url(#shaftg2)"/><ellipse cx="0.9" cy="0" rx="1.4" ry="4" fill="#f3f1e4"/><ellipse cx="19.0" cy="0" rx="1.7" ry="4" fill="#2e2d26"/></g>
<g transform="translate(708.3,844.3) rotate(-34.0) scale(0.850)"><rect x="3" y="-5.5" width="25.0" height="11" fill="url(#shaftg2)"/><ellipse cx="28.0" cy="0" rx="2.2" ry="5.5" fill="#dcd9c8"/><ellipse cx="3.5" cy="0" rx="5" ry="10.5" fill="#c9c6b4"/><rect x="-0.5" y="-10.5" width="4" height="21" fill="url(#shaftg2)"/><ellipse cx="-0.5" cy="0" rx="5" ry="10.5" fill="#f4f2e6"/><path d="M-5.8,4 Q-4,10.5 -0.5,10.5 L3.5,10.5 Q6,10 7.5,6 Q4,9 -0.5,8.5 Q-3.5,8 -5.8,4 Z" fill="#3a382f"/><path d="M-8.5,0.5 L-6.5,-6.5 L-2,-7.5 L0.8,0 L-1.2,7.5 L-6.2,7.5 Z" fill="#1f1e19"/><path d="M-6.6,0.6 L-5.5,-3.6 L-2.8,-4.2 L-1.2,0.2 L-2.3,4.3 L-5.3,4.3 Z" fill="#9a988c"/></g>
<g transform="translate(908.3,923.0) rotate(-5.3)"><rect x="-3.7" y="0" width="7.4" height="35.7" fill="url(#boltg)"/><ellipse cx="0" cy="0.6" rx="3.9" ry="1.9" fill="#ecead9"/><ellipse cx="0" cy="37.2" rx="7.8" ry="3.2" fill="#e6e3d2"/><path d="M-6.4,38.7 L6.4,38.7 L5.6,45.7 L-5.6,45.7 Z" fill="#55534a"/><path d="M-2.5,39.2 L2.5,39.2 L2.2,45.7 L-2.2,45.7 Z" fill="#8d8a7c"/></g>
<g transform="translate(953.8,893.6) rotate(-5.4)"><rect x="-3.7" y="0" width="7.4" height="36.1" fill="url(#boltg)"/><ellipse cx="0" cy="0.6" rx="3.9" ry="1.9" fill="#ecead9"/><ellipse cx="0" cy="37.6" rx="7.8" ry="3.2" fill="#e6e3d2"/><path d="M-6.4,39.1 L6.4,39.1 L5.6,46.1 L-5.6,46.1 Z" fill="#55534a"/><path d="M-2.5,39.6 L2.5,39.6 L2.2,46.1 L-2.2,46.1 Z" fill="#8d8a7c"/></g>
<g stroke="#0b6fd3" stroke-width="2.6" fill="none">
<path d="M124.9,68.6 L152.6,86.4 M165,95 L176.5,102 M189.3,110 L216.6,127.4 M228.2,134.9 L240,142.4"/>
<path d="M566.8,141.3 L538.8,158.2 M527.2,166.5 L514.7,174 M503.1,181.5 L488.9,189.5"/>
<path d="M292.3,315.6 L264,333.1 M252.4,339.8 L239.9,348.1 M227.4,355.6 L202.8,371.3"/>
</g>
</g>
<!--SME-->

<!--LABELS-->
<g id="labels" style="opacity:0.999">
<rect x="427.4" y="36.4" width="35.1" height="41.1" fill="none" stroke="#e60f18" stroke-width="3"/>
<text class="lbl" x="35.5" y="68.0">2</text>
<clipPath id="oneclip"><path d="M430,40 L447.7,40 L447.7,76 L443.6,76 L443.6,60 L430,60 Z"/></clipPath><g clip-path="url(#oneclip)"><text class="lbl" x="444.9" y="71.3" style="fill:#3c3c3c">1</text></g>
<text class="lbl" x="673.2" y="146.6">2</text>
<text class="lbl" x="0" y="238.7" transform="translate(676.4,0) scale(0.81,1)">3</text>
<text class="lbl" x="771" y="311.0">4</text>
<text class="lbl" x="0" y="384.0" transform="translate(823.3,0) scale(0.83,1)">5</text>
<text class="lbl" x="118" y="393.8">2</text>
<text class="lbl" x="928.4" y="598.3">6</text>
<text class="lbl" x="1219.8" y="594.3">7</text>
<text class="lbl" x="1096.3" y="666.8">8</text>
<text class="lbl" x="629.7" y="858.2">7</text>
<text class="lbl" x="0" y="948.1" transform="translate(1083.8,0) scale(0.92,1)">9</text>
<path class="lead" d="M46 59 L101.5 59.6"/>
<path class="lead" d="M362.4 61 L431.9 63.8" style="stroke-width:2"/>
<path class="lead" d="M591 133.5 L656 134"/>
<path class="lead" d="M576.4 227.4 L662.4 226.7"/>
<path class="lead" d="M677.5 300.7 L757.2 301.7"/>
<path class="lead" d="M725.6 377.1 L812.8 377.1"/>
<path class="lead" d="M127 384.5 L178.2 383.6"/>
<path class="lead" d="M822 585.7 L914 585.7"/>
<path class="lead" d="M1125.5 583.4 L1200.7 583.4"/>
<path class="lead" d="M1012.7 657.7 L1086.5 657.7"/>
<path class="lead" d="M637.5 845.8 L699 845.8"/>
<path class="lead" d="M992.3 936.2 L1065.7 936.2"/>
<polygon class="gbox" points="393.2,326.5 570.1,216.8 600.4,276 422.2,384.1"/>
<polygon class="gbox" points="962.3,877.9 991.7,936.7 907.3,988.6 877.3,928.1"/>
</g>
</svg>
</body>
</html>
